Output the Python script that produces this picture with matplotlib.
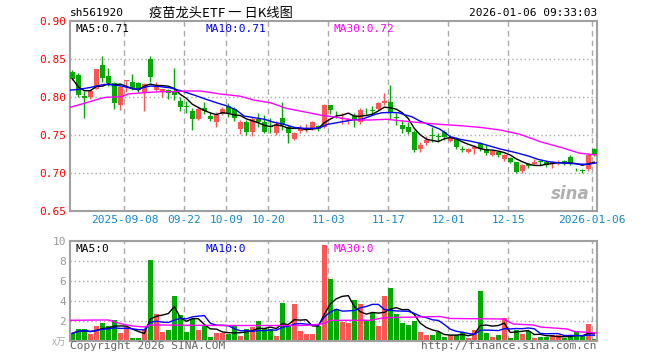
import matplotlib
matplotlib.use('Agg')
import matplotlib.pyplot as plt
import numpy as np
import pandas as pd

# ---------------- data ----------------
opens = [0.833, 0.829, 0.801, 0.800, 0.811, 0.842, 0.828, 0.819, 0.789, 0.821,
         0.820, 0.819, 0.807, 0.850, 0.809, 0.807, 0.809, 0.806, 0.795, 0.788,
         0.781, 0.771, 0.786, 0.775, 0.767, 0.778, 0.788, 0.784, 0.758, 0.767,
         0.754, 0.771, 0.767, 0.762, 0.752, 0.772, 0.761, 0.745, 0.755, 0.756,
         0.758, 0.762, 0.760, 0.789, 0.778, 0.771, 0.768, 0.775, 0.767, 0.782,
         0.783, 0.784, 0.792, 0.793, 0.774, 0.763, 0.760, 0.754, 0.731, 0.739,
         0.750, 0.748, 0.754, 0.742, 0.746, 0.731, 0.727, 0.732, 0.739, 0.731,
         0.724, 0.727, 0.718, 0.720, 0.714, 0.702, 0.712, 0.712, 0.715, 0.714,
         0.712, 0.713, 0.715, 0.721, 0.707, 0.704, 0.705, 0.732]
highs = [0.836, 0.831, 0.808, 0.811, 0.837, 0.854, 0.838, 0.820, 0.814, 0.823,
         0.830, 0.820, 0.818, 0.854, 0.820, 0.811, 0.811, 0.838, 0.800, 0.795,
         0.785, 0.787, 0.794, 0.780, 0.780, 0.787, 0.792, 0.787, 0.770, 0.770,
         0.774, 0.779, 0.776, 0.772, 0.768, 0.793, 0.763, 0.754, 0.763, 0.765,
         0.768, 0.763, 0.791, 0.790, 0.781, 0.779, 0.772, 0.779, 0.785, 0.786,
         0.788, 0.793, 0.805, 0.816, 0.779, 0.770, 0.767, 0.757, 0.741, 0.749,
         0.761, 0.752, 0.756, 0.748, 0.747, 0.735, 0.733, 0.737, 0.741, 0.737,
         0.730, 0.729, 0.725, 0.721, 0.715, 0.712, 0.713, 0.718, 0.717, 0.716,
         0.716, 0.717, 0.717, 0.724, 0.707, 0.705, 0.726, 0.733]
lows = [0.822, 0.800, 0.773, 0.798, 0.810, 0.820, 0.814, 0.784, 0.783, 0.806,
        0.809, 0.806, 0.782, 0.820, 0.808, 0.800, 0.797, 0.796, 0.782, 0.779,
        0.756, 0.770, 0.778, 0.768, 0.761, 0.776, 0.774, 0.769, 0.751, 0.750,
        0.749, 0.761, 0.752, 0.752, 0.750, 0.757, 0.740, 0.743, 0.753, 0.754,
        0.756, 0.755, 0.759, 0.778, 0.773, 0.764, 0.765, 0.760, 0.765, 0.776,
        0.777, 0.783, 0.789, 0.771, 0.763, 0.752, 0.751, 0.727, 0.728, 0.737,
        0.741, 0.741, 0.744, 0.741, 0.732, 0.727, 0.726, 0.725, 0.729, 0.724,
        0.722, 0.721, 0.716, 0.713, 0.700, 0.700, 0.707, 0.710, 0.710, 0.708,
        0.706, 0.711, 0.711, 0.710, 0.702, 0.700, 0.703, 0.723]
closes = [0.824, 0.802, 0.799, 0.808, 0.837, 0.825, 0.818, 0.792, 0.813, 0.822,
          0.811, 0.809, 0.817, 0.826, 0.813, 0.810, 0.805, 0.802, 0.787, 0.787,
          0.771, 0.784, 0.782, 0.771, 0.776, 0.784, 0.779, 0.772, 0.767, 0.754,
          0.771, 0.767, 0.754, 0.760, 0.765, 0.763, 0.753, 0.753, 0.759, 0.757,
          0.767, 0.758, 0.790, 0.783, 0.777, 0.773, 0.771, 0.770, 0.783, 0.781,
          0.782, 0.792, 0.795, 0.779, 0.772, 0.758, 0.754, 0.730, 0.737, 0.744,
          0.749, 0.747, 0.748, 0.746, 0.734, 0.730, 0.731, 0.734, 0.731, 0.726,
          0.729, 0.724, 0.724, 0.715, 0.701, 0.710, 0.709, 0.715, 0.714, 0.710,
          0.714, 0.715, 0.714, 0.713, 0.706, 0.703, 0.724, 0.725]
volumes = [0.77, 1.17, 1.17, 0.67, 1.47, 1.77, 1.47, 2.07, 0.77, 1.37,
           0.27, 0.27, 1.07, 8.07, 2.67, 0.87, 1.07, 4.47, 2.57, 0.87,
           2.17, 1.07, 1.57, 0.37, 0.77, 0.77, 0.67, 1.47, 0.47, 1.17,
           1.37, 1.97, 1.27, 1.17, 0.47, 3.77, 1.57, 3.67, 0.97, 0.67,
           0.67, 1.47, 9.57, 6.17, 3.23, 1.90, 1.80, 4.07, 3.67, 1.97,
           2.77, 1.47, 4.47, 5.27, 2.67, 1.77, 1.57, 1.97, 0.87, 0.57,
           0.57, 0.87, 0.37, 0.57, 0.57, 0.87, 0.27, 1.07, 4.97, 0.77,
           0.37, 0.57, 2.27, 0.27, 1.07, 0.67, 0.97, 0.27, 0.37, 0.37,
           0.57, 0.57, 0.27, 0.47, 0.87, 0.47, 1.67, 0.17]

# moving-average lines (index, value)
ma10_idx = [-0.4, 1, 3, 4.3, 5.4, 6.5, 8.2, 9.8, 10.9, 12, 13.1, 14.6, 16.2, 17.3, 19, 20.6,
            22.3, 24, 25.6, 27.3, 28.6, 30.3, 32, 33.6, 35.3, 37, 38.6, 40.3, 41.4, 42.5,
            44, 45, 46.6, 48.3, 49.4, 50.5, 51.6, 53, 54.4, 55.5, 56.6, 57.9, 59.6, 61.3,
            63, 64.6, 66.3, 68, 69.6, 71.3, 73.3, 74.3, 76, 77.6, 79.3, 81, 82.6, 84.3, 86, 87.45]
ma10_val = [0.809, 0.810, 0.8125, 0.815, 0.8167, 0.816, 0.8145, 0.8114, 0.810, 0.8128, 0.8145, 0.8136,
            0.8122, 0.810, 0.806, 0.8017, 0.797, 0.7925, 0.7886, 0.783, 0.775, 0.7728, 0.7707,
            0.7667, 0.764, 0.760, 0.7588, 0.7588, 0.760, 0.764, 0.766, 0.7675, 0.7697, 0.7707,
            0.774, 0.7772, 0.7793, 0.7797, 0.7793, 0.7763, 0.774, 0.7684, 0.763, 0.7575, 0.7478,
            0.7443, 0.742, 0.739, 0.7355, 0.7316, 0.728, 0.726, 0.7224, 0.718, 0.715, 0.7135,
            0.7128, 0.7118, 0.7114, 0.7135]
ma30_idx = [-0.4, 2, 4.8, 5.6, 8.2, 9.3, 12, 14.6, 16.8, 19, 21.3, 23, 24.6, 28, 30.2, 33,
            35.7, 38.5, 41.3, 44, 46.8, 49.6, 52.4, 55.1, 58, 61.3, 64.6, 68, 71.3, 74.6, 78,
            81.3, 84.6, 87.45]
ma30_val = [0.7864, 0.7917, 0.7983, 0.7996, 0.8004, 0.804, 0.8057, 0.807, 0.807, 0.8079, 0.8079,
            0.806, 0.804, 0.801, 0.796, 0.7925, 0.785, 0.7807, 0.7763, 0.7733, 0.7697, 0.7697,
            0.7707, 0.7684, 0.7662, 0.764, 0.7623, 0.760, 0.7566, 0.751, 0.7412, 0.734, 0.726,
            0.7237]
vol_ma30_idx = [-0.4, 4, 6, 7, 8.5, 10, 12, 13, 15, 25, 38, 40, 42, 43, 49.6, 52, 57.4, 61.3,
                63, 71.9, 72.5, 73.5, 76.9, 78, 82.5, 83.6, 87.45]
vol_ma30_val = [2.07, 2.1, 2.1, 1.9, 1.67, 1.5, 1.4, 1.6, 1.6, 1.55, 1.55, 1.6, 1.75, 2.07, 2.07,
                2.33, 2.4, 2.45, 2.25, 2.2, 2.0, 1.7, 1.6, 1.4, 1.2, 0.95, 0.8]

date_labels = ['2025-09-08', '09-22', '10-09', '10-20', '11-03', '11-17', '12-01', '12-15', '2026-01-06']
date_index = [9, 19, 26, 33, 43, 53, 63, 73, 87]
price_ticks = [0.65, 0.70, 0.75, 0.80, 0.85, 0.90]
vol_ticks = [2, 4, 6, 8, 10]

# ---------------- style ----------------
RED = '#ff5555'
GREEN = '#00aa00'
GRID = '#aaaaaa'
BORDER = '#a0a0a0'
MONO = 'DejaVu Sans Mono'
CJK = ['Noto Sans CJK SC', 'DejaVu Sans']

W, H = 660, 360
fig = plt.figure(figsize=(6.6, 3.6), dpi=100)
fig.patch.set_facecolor('white')


def fx(px):
    return px / W


def fy(py):
    return 1 - py / H


ax = fig.add_axes([fx(70), fy(211), fx(597) - fx(70), fy(21) - fy(211)])
axv = fig.add_axes([fx(70), fy(341), fx(597) - fx(70), fy(241) - fy(341)])

n = len(closes)
x = np.arange(n)
o = np.array(opens)
c = np.array(closes)
h = np.array(highs)
l = np.array(lows)
up = c >= o
colors = np.where(up, RED, GREEN)

XMIN, XMAX = -0.4, 87.45
grid_pos = [d - 0.33 for d in date_index]

for a in (ax, axv):
    a.set_xlim(XMIN, XMAX)
    for s in a.spines.values():
        s.set_color(BORDER)
        s.set_linewidth(1.5)
    for p in grid_pos:
        a.axvline(p, color=GRID, lw=1.0, ls=(0, (4, 3)), zorder=0)
    a.tick_params(length=0)

# price panel
ax.set_ylim(0.65, 0.90)
for yv in [0.70, 0.75, 0.80, 0.85]:
    ax.axhline(yv, color=GRID, lw=1.0, ls=(0, (1, 2)), zorder=0)
ax.vlines(x, l, h, colors=colors, lw=1.0, zorder=2)
body = np.maximum(np.abs(c - o), 0.0012)
bottom = np.minimum(o, c)
ax.bar(x, body, bottom=bottom, width=0.78, color=colors, linewidth=0, zorder=3)

ma5 = pd.Series(closes).rolling(5, min_periods=1).mean()
ax.plot(x, ma5, color='black', lw=1.0, zorder=4)
ax.plot(ma10_idx, ma10_val, color='#0000ff', lw=1.0, zorder=4)
ax.plot(ma30_idx, ma30_val, color='#ff00ff', lw=1.0, zorder=4)

ax.set_yticks(price_ticks)
ax.set_yticklabels(['%.2f' % t for t in price_ticks], color='#ff0000', fontsize=8, family=MONO)
ax.tick_params(axis='y', pad=3)
ax.set_xticks(grid_pos)
ax.set_xticklabels(date_labels, color='#1188cc', fontsize=8, family=MONO)
ax.tick_params(axis='x', pad=3)

ax.text(0.01, 0.985, 'MA5:0.71', transform=ax.transAxes, va='top', ha='left', fontsize=8, family=MONO, color='black')
ax.text((205 - 70) / 527, 0.985, 'MA10:0.71', transform=ax.transAxes, va='top', ha='left', fontsize=8, family=MONO, color='#0000ff')
ax.text((334 - 70) / 527, 0.985, 'MA30:0.72', transform=ax.transAxes, va='top', ha='left', fontsize=8, family=MONO, color='#ff00ff')

# sina watermark
ax.text(0.985, 0.04, 'sina', transform=ax.transAxes, ha='right', va='bottom', fontsize=12,
        fontstyle='italic', fontweight='bold', color='#b0b0b0', family='DejaVu Sans', zorder=1)

# volume panel
axv.set_ylim(0, 10)
for yv in [2, 4, 6, 8]:
    axv.axhline(yv, color=GRID, lw=1.0, ls=(0, (1, 2)), zorder=0)
axv.bar(x, volumes, width=0.78, color=colors, linewidth=0, zorder=2)
vma5 = pd.Series(volumes).rolling(5, min_periods=1).mean()
vma10 = pd.Series(volumes).rolling(10, min_periods=1).mean()
axv.plot(x, vma5, color='black', lw=1.0, zorder=3)
axv.plot(x, vma10, color='#0000ff', lw=1.0, zorder=3)
axv.plot(vol_ma30_idx, vol_ma30_val, color='#ff00ff', lw=1.0, zorder=3)
axv.set_yticks(vol_ticks)
axv.set_yticklabels([str(t) for t in vol_ticks], color='#999999', fontsize=8, family=MONO)
axv.tick_params(axis='y', pad=3)
axv.set_xticks([])

axv.text(0.01, 0.975, 'MA5:0', transform=axv.transAxes, va='top', ha='left', fontsize=8, family=MONO, color='black')
axv.text((205 - 70) / 527, 0.975, 'MA10:0', transform=axv.transAxes, va='top', ha='left', fontsize=8, family=MONO, color='#0000ff')
axv.text((334 - 70) / 527, 0.975, 'MA30:0', transform=axv.transAxes, va='top', ha='left', fontsize=8, family=MONO, color='#ff00ff')

# header / footer
fig.text(fx(70), fy(13), 'sh561920', ha='left', va='center', fontsize=8, family=MONO, color='black')
fig.text(fx(221), fy(13), '疫苗龙头ETF 一 日K线图', ha='center', va='center', fontsize=9.5, family=CJK, color='black')
fig.text(fx(597), fy(13), '2026-01-06 09:33:03', ha='right', va='center', fontsize=8, family=MONO, color='black')
fig.text(fx(66), fy(342), 'x万', ha='right', va='center', fontsize=7, family=CJK, color='#aaaaaa')
fig.text(fx(70), fy(346), 'Copyright 2026 SINA.COM', ha='left', va='center', fontsize=8, family=MONO, color='#666666')
fig.text(fx(597), fy(346), 'http://finance.sina.com.cn', ha='right', va='center', fontsize=8, family=MONO, color='#666666')

fig.savefig('out.png', dpi=100)
